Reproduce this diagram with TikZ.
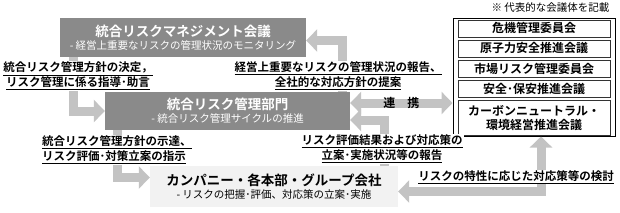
\documentclass[tikz,border=0pt]{standalone}
\usepackage{fontspec}
\setmainfont{Noto Sans CJK JP}[BoldFont={Noto Sans CJK JP Bold}]
\usepackage{xcolor}
\definecolor{boxgray}{HTML}{8A8A8A}
\definecolor{arrgray}{HTML}{C3C3C3}
\definecolor{palegray}{HTML}{F2F2F2}
\usepackage{tikz}
\usetikzlibrary{arrows.meta,positioning}

\newcommand{\ul}[1]{\underline{#1}}
\newcommand{\ttlsize}{\fontsize{13.5}{16}\selectfont\bfseries}
\newcommand{\subsize}{\fontsize{10.5}{12}\selectfont}

\begin{document}
\begin{tikzpicture}[x=1pt,y=-1pt,>={Triangle[width=22pt,length=11pt]},line join=miter]
    \tikzstyle{blk}=[rectangle,inner sep=0pt,align=center]
    \tikzstyle{lbl}=[fill=white,inner sep=1pt,align=center,font=\fontsize{11.5}{15}\selectfont\bfseries]
    \tikzstyle{garr}=[->,draw=arrgray,line width=9pt]
    \tikzstyle{row}=[draw=black!80,line width=0.6pt,minimum width=152pt,minimum height=17pt,inner sep=0pt,font=\fontsize{12}{14}\selectfont\bfseries]

    \useasboundingbox (0,0) rectangle (620,212);

    % boxes
    \node[blk,fill=boxgray,text=white,minimum width=246pt,minimum height=39pt] (top) at (183,37.5)
        {{\ttlsize 統合リスクマネジメント会議}\\[1pt]{\subsize - 経営上重要なリスクの管理状況のモニタリング}};
    \node[blk,fill=boxgray,text=white,minimum width=245pt,minimum height=38pt] (mid) at (227.5,111)
        {{\ttlsize 統合リスク管理部門}\\[1pt]{\subsize - 統合リスク管理サイクルの推進}};
    \node[blk,fill=palegray,text=black,minimum width=248pt,minimum height=41pt] (bot) at (274,186.5)
        {{\ttlsize カンパニー・各本部・グループ会社}\\[1pt]{\subsize - リスクの把握･評価、対応策の立案･実施}};

    \node[draw=black,line width=1pt,minimum width=162pt,minimum height=118pt,inner sep=0pt] (rbox) at (534,77) {};
    \node[row,below=2pt of rbox.north] (r1) {危機管理委員会};
    \node[row,below=2.5pt of r1] (r2) {原子力安全推進会議};
    \node[row,below=2.5pt of r2] (r3) {市場リスク管理委員会};
    \node[row,below=2.5pt of r3] (r4) {安全･保安推進会議};
    \node[row,below=2.5pt of r4,minimum height=35pt,align=center] (r5) {カーボンニュートラル・\\環境経営推進会議};
    \node[anchor=east,font=\fontsize{10.5}{12}\selectfont] (note) at (613,8) {※ 代表的な会議体を記載};

    % arrows
    \draw[garr] ([xshift=14pt]top.south west) |- (mid.west);
    \draw[garr] ([xshift=-8pt]mid.north east) |- ([yshift=-3pt]top.east);
    \draw[garr] ([xshift=13pt]mid.south west) |- ([yshift=9pt]bot.west);
    \draw[garr] ([xshift=-14pt]bot.north east) |- ([yshift=-9pt]mid.east);
    \draw[garr,<->] ([yshift=-5pt]bot.east) -| ([xshift=7pt]rbox.south);
    \draw[garr,<->] ([yshift=8pt]mid.east) -- ([yshift=8pt]mid.east -| rbox.west)
        node[midway,text=black,font=\fontsize{12}{14}\selectfont\bfseries] (link) {連　携};

    % labels
    \node[lbl] (lblA) at (78,76) {\ul{統合リスク管理方針の決定，}\\\ul{リスク管理に係る指導･助言}};
    \node[lbl] (lblB) at (338,76) {\ul{経営上重要なリスクの管理状況の報告、}\\\ul{全社的な対応方針の提案}};
    \node[lbl,anchor=west,align=left] (lblC) at (41,150) {\ul{統合リスク管理方針の示達、}\\\ul{リスク評価･対策立案の指示}};
    \node[lbl] (lblD) at (382,149) {\ul{リスク評価結果および対応策の}\\\ul{立案･実施状況等の報告}};
    \node[lbl] (lblE) at (516,177) {\ul{リスクの特性に応じた対応策等の検討}};
\end{tikzpicture}
\end{document}
